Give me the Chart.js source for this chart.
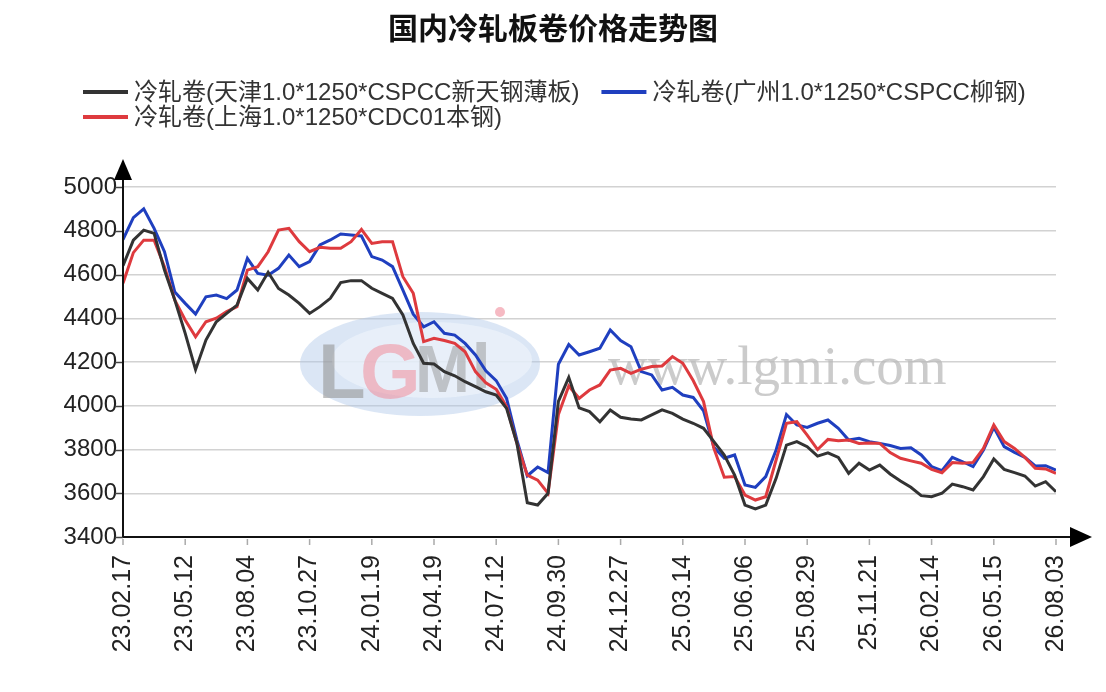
<!DOCTYPE html>
<html>
<head>
<meta charset="utf-8">
<script src="https://cdn.jsdelivr.net/npm/chart.js@4.4.1/dist/chart.umd.min.js"></script>
<style>
html,body{margin:0;padding:0;background:#fff;overflow:hidden;}
#wrap{width:1106px;height:692px;position:relative;}
</style>
</head>
<body>
<div id="wrap"><canvas id="c"></canvas></div>
<script>
const titleText = '国内冷轧板卷价格走势图';
const seriesNames = [
  '冷轧卷(天津1.0*1250*CSPCC新天钢薄板)',
  '冷轧卷(广州1.0*1250*CSPCC柳钢)',
  '冷轧卷(上海1.0*1250*CDC01本钢)'
];
const seriesColors = ['#333333', '#1f3fbf', '#de3a3e'];
const tickLabels = ['23.02.17','23.05.12','23.08.04','23.10.27','24.01.19','24.04.19','24.07.12','24.09.30',
  '24.12.27','25.03.14','25.06.06','25.08.29','25.11.21','26.02.14','26.05.15','26.08.03'];
const pointsPerLabel = 6;
const yMin = 3400, yMax = 5000, yStep = 200;

const tianjin = [4640,4757,4803,4788,4620,4483,4331,4165,4300,4384,4422,4460,4582,4529,4610,4536,4506,4468,
  4422,4453,4491,4563,4572,4572,4537,4514,4491,4415,4285,4194,4191,4156,4137,4110,4087,4064,
  4049,3988,3828,3557,3546,3600,4020,4130,3990,3973,3927,3981,3947,3939,3935,3958,3981,3965,
  3939,3920,3897,3836,3775,3683,3546,3528,3546,3668,3820,3836,3813,3770,3785,3764,3691,3737,3706,
  3729,3688,3656,3627,3589,3584,3600,3642,3630,3615,3676,3757,3709,3694,3679,3633,3653,3607];
const guangzhou = [4760,4860,4900,4811,4704,4520,4468,4419,4498,4506,4490,4529,4674,4605,4597,4628,4689,4636,
  4659,4735,4758,4785,4781,4776,4682,4666,4636,4529,4419,4361,4384,4331,4323,4285,4232,4160,
  4115,4034,3843,3680,3720,3694,4190,4280,4232,4247,4263,4346,4298,4270,4156,4141,4072,4084,
  4049,4038,3977,3810,3760,3775,3638,3627,3676,3798,3960,3912,3901,3920,3935,3897,3843,3851,3836,
  3828,3818,3805,3808,3775,3722,3703,3764,3744,3722,3798,3901,3813,3787,3764,3725,3726,3706];
const shanghai = [4560,4700,4757,4757,4636,4483,4392,4315,4384,4400,4430,4453,4620,4636,4704,4803,4811,4750,
  4704,4724,4720,4720,4750,4806,4742,4750,4750,4590,4514,4293,4308,4298,4285,4247,4156,4105,
  4075,3996,3828,3683,3660,3600,3960,4090,4034,4072,4095,4163,4171,4148,4167,4179,4182,4225,
  4194,4115,4019,3805,3673,3676,3592,3569,3584,3752,3920,3927,3866,3800,3846,3840,3843,3828,3830,
  3828,3786,3760,3748,3737,3709,3694,3740,3737,3741,3805,3912,3836,3805,3764,3714,3711,3691];

const FONT = '"Liberation Sans", "Noto Sans CJK SC", sans-serif';
const toXY = arr => arr.map((v, i) => ({x: i, y: v}));
const seriesData = [tianjin, guangzhou, shanghai];

const decor = {
  id: 'decor',
  beforeDatasetsDraw(chart) {
    const ctx = chart.ctx;
    ctx.save();
    ctx.beginPath();
    ctx.ellipse(420, 364, 120, 52, 0, 0, Math.PI * 2);
    ctx.fillStyle = 'rgba(175,200,232,0.45)';
    ctx.fill();
    ctx.beginPath();
    ctx.ellipse(432, 360, 100, 38, 0, 0, Math.PI * 2);
    ctx.fillStyle = 'rgba(236,243,251,0.75)';
    ctx.fill();
    ctx.textBaseline = 'alphabetic';
    ctx.font = 'bold 78px "Liberation Sans"';
    ctx.fillStyle = 'rgba(150,150,150,0.6)';
    ctx.fillText('L', 318, 398);
    ctx.fillStyle = 'rgba(240,140,155,0.55)';
    ctx.fillText('G', 360, 398);
    ctx.font = 'bold 66px "Liberation Sans"';
    ctx.fillStyle = 'rgba(150,150,150,0.5)';
    ctx.fillText('M', 415, 392);
    ctx.fillText('I', 472, 388);
    ctx.beginPath();
    ctx.arc(500, 312, 5, 0, Math.PI * 2);
    ctx.fillStyle = 'rgba(240,140,155,0.6)';
    ctx.fill();
    ctx.font = '55px "Liberation Serif"';
    ctx.fillStyle = 'rgba(185,185,185,0.75)';
    ctx.fillText('www.lgmi.com', 608, 384);
    ctx.restore();
  },
  afterDatasetsDraw(chart) {
    const ctx = chart.ctx;
    const a = chart.chartArea;
    const xs = chart.scales.x, ys = chart.scales.y;
    ctx.save();
    ctx.strokeStyle = '#444';
    ctx.lineWidth = 1.5;
    for (let v = yMin; v <= yMax; v += yStep) {
      const py = Math.round(ys.getPixelForValue(v)) + 0.5;
      ctx.beginPath(); ctx.moveTo(a.left - 8, py); ctx.lineTo(a.left, py); ctx.stroke();
    }
    ctx.strokeStyle = '#aaa';
    tickLabels.forEach((_, k) => {
      const px = xs.getPixelForValue(k * pointsPerLabel);
      ctx.beginPath(); ctx.moveTo(px, a.bottom + 2); ctx.lineTo(px, a.bottom + 8); ctx.stroke();
    });
    ctx.strokeStyle = '#111';
    ctx.lineWidth = 2;
    ctx.beginPath();
    ctx.moveTo(a.left, a.bottom); ctx.lineTo(a.left, a.top - 8);
    ctx.moveTo(a.left, a.bottom); ctx.lineTo(a.right + 14, a.bottom);
    ctx.stroke();
    ctx.fillStyle = '#000';
    ctx.beginPath();
    ctx.moveTo(a.left - 9, a.top - 7); ctx.lineTo(a.left + 9, a.top - 7); ctx.lineTo(a.left, a.top - 28);
    ctx.closePath(); ctx.fill();
    ctx.beginPath();
    ctx.moveTo(a.right + 14, a.bottom - 10); ctx.lineTo(a.right + 14, a.bottom + 10); ctx.lineTo(a.right + 36, a.bottom);
    ctx.closePath(); ctx.fill();
    ctx.restore();
  },
  afterDraw(chart) {
    const ctx = chart.ctx;
    ctx.save();
    ctx.font = '24px ' + FONT;
    ctx.textBaseline = 'middle';
    const rowY = [92, 117];
    const startX = 83, swatch = 45, gap = 6, itemGap = 22;
    const w0 = ctx.measureText(seriesNames[0]).width;
    const pos = [[startX, rowY[0]], [startX + swatch + gap + w0 + itemGap, rowY[0]], [startX, rowY[1]]];
    seriesNames.forEach((name, i) => {
      const [x, y] = pos[i];
      ctx.strokeStyle = seriesColors[i];
      ctx.lineWidth = 4;
      ctx.beginPath(); ctx.moveTo(x, y); ctx.lineTo(x + swatch, y); ctx.stroke();
      ctx.fillStyle = '#333';
      ctx.fillText(name, x + swatch + gap, y + 1);
    });
    ctx.restore();
  }
};

new Chart(document.getElementById('c'), {
  type: 'line',
  data: {
    datasets: seriesNames.map((name, i) => ({
      label: name,
      data: toXY(seriesData[i]),
      borderColor: seriesColors[i],
      backgroundColor: seriesColors[i],
      borderWidth: 3,
      pointRadius: 0,
      tension: 0,
      order: [0, 2, 1][i]
    }))
  },
  options: {
    responsive: true,
    maintainAspectRatio: false,
    animation: false,
    layout: {padding: {left: 50, right: 50, top: 0, bottom: 0}},
    plugins: {
      legend: {display: false},
      tooltip: {enabled: false},
      title: {
        display: true,
        text: titleText,
        color: '#111',
        font: {size: 30, weight: 'bold', family: '"Noto Sans CJK SC", sans-serif'},
        padding: {top: 10, bottom: 141}
      }
    },
    scales: {
      x: {
        type: 'linear',
        min: 0,
        max: (tickLabels.length - 1) * pointsPerLabel,
        grid: {display: false, drawTicks: false},
        border: {display: false},
        afterBuildTicks: s => { s.ticks = tickLabels.map((_, k) => ({value: k * pointsPerLabel})); },
        afterFit: s => { s.height = 155; },
        ticks: {
          autoSkip: false,
          minRotation: 90,
          maxRotation: 90,
          padding: 18,
          color: '#222',
          font: {size: 25, family: FONT},
          callback: v => tickLabels[Math.round(v / pointsPerLabel)] || ''
        }
      },
      y: {
        min: yMin,
        max: yMax,
        grid: {color: '#d2d2d2', lineWidth: 1.5, drawTicks: false},
        border: {display: false},
        afterFit: s => { s.width = 73; },
        ticks: {
          stepSize: yStep,
          padding: 6,
          color: '#222',
          font: {size: 24, family: FONT},
          callback: v => String(v)
        }
      }
    }
  },
  plugins: [decor]
});
</script>
</body>
</html>
